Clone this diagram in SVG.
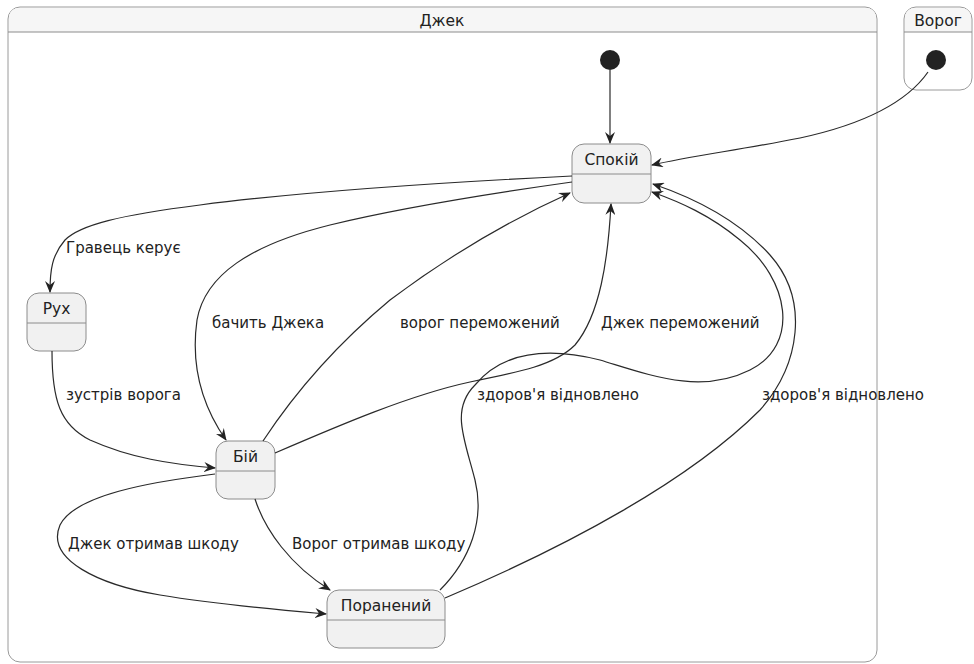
<svg xmlns="http://www.w3.org/2000/svg" width="974" height="664" viewBox="0 0 974 664">
<defs>
<style>
.cont{fill:#ffffff;stroke:#9a9a9a;stroke-width:1}
.hdr{fill:#f6f6f6;stroke:none}
.st{fill:#f1f1f1;stroke:#8c8c8c;stroke-width:1}
.div{stroke:#8c8c8c;stroke-width:1}
.e{fill:none;stroke:#2a2a2a;stroke-width:1.2;marker-end:url(#arr)}
.t{font-family:"DejaVu Sans","Liberation Sans",sans-serif;fill:#222}
.nm{font-size:15.5px;text-anchor:middle}
.lb{font-size:15px}
.init{fill:#222}
</style>
<marker id="arr" viewBox="0 0 12 10" refX="11" refY="5" markerWidth="12" markerHeight="10" markerUnits="userSpaceOnUse" orient="auto">
<path d="M0,0 L12,5 L0,10 L4,5 Z" fill="#222"/>
</marker>
</defs>
<rect width="974" height="664" fill="#ffffff"/>
<g id="cont-jack">
<rect class="cont" x="8" y="7" width="869" height="655" rx="12"/>
<path class="hdr" d="M9,32 L9,19 Q9,8 20,8 L865,8 Q876,8 876,19 L876,32 Z"/>
<line class="div" x1="8" y1="32" x2="877" y2="32"/>
<text class="t nm" x="442" y="26">Джек</text>
</g>
<g id="cont-vorog">
<rect class="cont" x="904" y="7" width="68" height="83" rx="12"/>
<path class="hdr" d="M905,32 L905,19 Q905,8 916,8 L960,8 Q971,8 971,19 L971,32 Z"/>
<line class="div" x1="904" y1="32" x2="972" y2="32"/>
<text class="t nm" x="938" y="26">Ворог</text>
</g>
<g id="init-jack"><circle class="init" cx="610" cy="60" r="10"/></g>
<g id="init-vorog"><circle class="init" cx="936" cy="60" r="10"/></g>
<g id="spokiy">
<rect class="st" x="572" y="144" width="79" height="59" rx="12"/>
<line class="div" x1="572" y1="174" x2="651" y2="174"/>
<text class="t nm" x="611.5" y="165">Спокій</text>
</g>
<g id="rukh">
<rect class="st" x="27" y="293" width="59" height="58" rx="12"/>
<line class="div" x1="27" y1="323" x2="86" y2="323"/>
<text class="t nm" x="56.5" y="314">Рух</text>
</g>
<g id="biy">
<rect class="st" x="216" y="441" width="59" height="58" rx="12"/>
<line class="div" x1="216" y1="471" x2="275" y2="471"/>
<text class="t nm" x="245.5" y="462">Бій</text>
</g>
<g id="poranenyi">
<rect class="st" x="327" y="590" width="118" height="58" rx="12"/>
<line class="div" x1="327" y1="620" x2="445" y2="620"/>
<text class="t nm" x="386" y="611">Поранений</text>
</g>
<g id="connectors">
<path class="e" d="M610,70 L610,143"/>
<path class="e" d="M928,72 C905,105 860,125 800,138 C740,150 690,156 652,165"/>
<path class="e" d="M572,176 C450,182 300,192 200,205 C120,215 80,225 65,240 C52,255 50,270 50,292"/>
<path class="e" d="M572,182 C480,195 400,208 330,225 C250,245 205,275 197,320 C190,370 205,410 226,440"/>
<path class="e" d="M52,351 C52,400 60,425 90,440 C130,458 170,464 215,468"/>
<path class="e" d="M263,441 C290,400 330,350 390,300 C450,255 510,220 570,193"/>
<path class="e" d="M275,453 C340,425 410,395 470,382 C520,372 555,365 575,345 C600,315 608,260 611,204"/>
<path class="e" d="M440,590 C470,560 485,520 475,480 C465,440 450,410 475,385 C500,355 540,345 600,360 C650,375 700,395 750,370 C800,345 790,280 740,240 C710,215 680,202 652,192"/>
<path class="e" d="M445,598 C570,545 690,480 760,410 C800,365 810,300 770,255 C740,222 700,200 653,184"/>
<path class="e" d="M215,474 C150,482 75,495 60,525 C45,560 100,585 160,595 C220,605 280,610 326,614"/>
<path class="e" d="M255,499 C265,530 290,565 330,590"/>
</g>
<g id="labels">
<text class="t lb" x="66" y="253">Гравець керує</text>
<text class="t lb" x="212" y="328">бачить Джека</text>
<text class="t lb" x="400" y="328">ворог переможений</text>
<text class="t lb" x="601" y="328">Джек переможений</text>
<text class="t lb" x="66" y="400">зустрів ворога</text>
<text class="t lb" x="477" y="400">здоров'я відновлено</text>
<text class="t lb" x="762" y="400">здоров'я відновлено</text>
<text class="t lb" x="68" y="549">Джек отримав шкоду</text>
<text class="t lb" x="292" y="549">Ворог отримав шкоду</text>
</g>
</svg>
